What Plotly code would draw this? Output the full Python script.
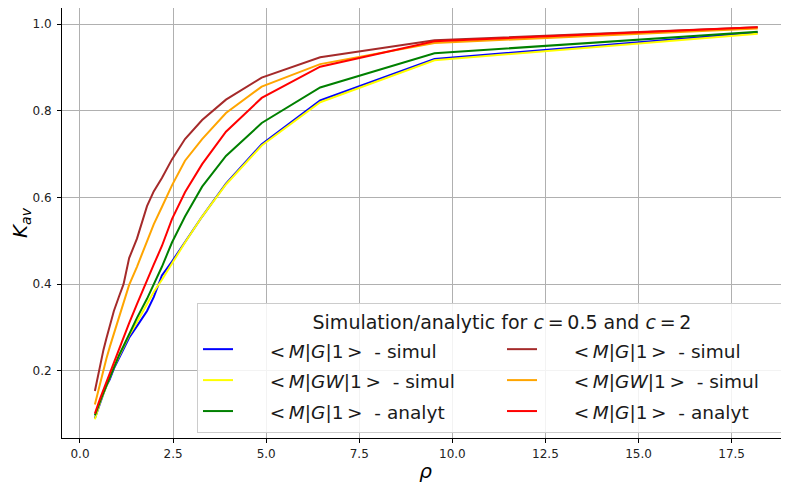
import plotly.graph_objects as go

# rho values (x)
rho = [0.40, 0.45, 0.50, 0.56, 0.63, 0.71, 0.80, 0.91, 1.05, 1.17, 1.32, 1.53,
       1.80, 1.98, 2.20, 2.47, 2.82, 3.28, 3.92, 4.88, 6.45, 9.52, 18.2]

# c = 0.5
mg1_simul_c05 = [0.090, 0.103, 0.118, 0.130, 0.147, 0.165, 0.180, 0.205, 0.230, 0.250, 0.276, 0.303,
                 0.338, 0.370, 0.420, 0.452, 0.498, 0.556, 0.632, 0.723, 0.824, 0.920, 0.981]
mgw1_simul_c05 = [0.088, 0.105, 0.116, 0.132, 0.148, 0.166, 0.186, 0.208, 0.234, 0.255, 0.282, 0.312,
                  0.355, 0.382, 0.410, 0.448, 0.496, 0.556, 0.630, 0.720, 0.820, 0.917, 0.978]
mg1_analyt_c05 = [0.097, 0.110, 0.121, 0.134, 0.149, 0.166, 0.186, 0.209, 0.236, 0.257, 0.285, 0.322,
                  0.366, 0.398, 0.440, 0.496, 0.556, 0.625, 0.696, 0.772, 0.854, 0.933, 0.983]
# c = 2
mg1_simul_c2 = [0.153, 0.175, 0.195, 0.222, 0.248, 0.275, 0.305, 0.338, 0.372, 0.400, 0.460, 0.505,
                0.580, 0.614, 0.645, 0.688, 0.735, 0.779, 0.826, 0.877, 0.924, 0.963, 0.993]
mgw1_simul_c2 = [0.122, 0.140, 0.158, 0.180, 0.202, 0.228, 0.255, 0.285, 0.325, 0.360, 0.398, 0.440,
                 0.500, 0.538, 0.578, 0.628, 0.685, 0.735, 0.795, 0.856, 0.908, 0.957, 0.990]
mg1_analyt_c2 = [0.101, 0.115, 0.126, 0.140, 0.156, 0.175, 0.196, 0.220, 0.250, 0.277, 0.310, 0.354,
                 0.410, 0.445, 0.488, 0.550, 0.612, 0.677, 0.752, 0.830, 0.902, 0.961, 0.993]

x_ticks = [0.0, 2.5, 5.0, 7.5, 10.0, 12.5, 15.0, 17.5]
y_ticks = [0.2, 0.4, 0.6, 0.8, 1.0]

PAD = "\u00a0" * 4 + "\u2009"
LBL_G = "<\u2009<i>M</i>|<i>G</i>|1\u2009>"
LBL_GW = "<\u2009<i>M</i>|<i>GW</i>|1\u2009>"

def entry(t):
    return PAD + '<span style="font-size:18.5px">' + t + "</span>"

series = [
    (mg1_simul_c05, "blue", LBL_G + "  - simul", 1),
    (mgw1_simul_c05, "yellow", LBL_GW + "  - simul", 3),
    (mg1_analyt_c05, "green", LBL_G + "  - analyt", 5),
    (mg1_simul_c2, "brown", LBL_G + "  - simul", 2),
    (mgw1_simul_c2, "orange", LBL_GW + "  - simul", 4),
    (mg1_analyt_c2, "red", LBL_G + "  - analyt", 6),
]

fig = go.Figure()
for ys, col, name, rank in series:
    fig.add_trace(go.Scatter(x=rho, y=ys, mode="lines", name=entry(name),
                             line=dict(color=col, width=2), legendrank=rank))

FONT = "DejaVu Sans"
# the page body adds an 8px margin, so the figure is sized to fit the window
fig.update_layout(
    width=781, height=475,
    margin=dict(l=54, r=0, t=0, b=45, autoexpand=False),
    paper_bgcolor="white", plot_bgcolor="white",
    font=dict(family=FONT, color="#222222", size=12),
    legend=dict(
        orientation="h",
        x=0.1857, y=0.314, xanchor="left", yanchor="top",
        entrywidth=259,
        bgcolor="rgba(255,255,255,0.85)",
        bordercolor="#cccccc", borderwidth=1,
        font=dict(family=FONT, size=21.5, color="#1a1a1a"),
        title=dict(text="Simulation/analytic for <i>c</i>\u2009=\u20090.5 and <i>c</i>\u2009=\u20092",
                   side="top center", font=dict(family=FONT, size=19, color="#1a1a1a")),
        tracegroupgap=0,
    ),
)
fig.update_xaxes(
    range=[-0.483, 19.04], tickvals=x_ticks, ticktext=[f"{v:.1f}" for v in x_ticks],
    showgrid=True, gridcolor="#b0b0b0", gridwidth=1,
    showline=True, linecolor="black", linewidth=1, mirror=True,
    ticks="outside", ticklen=4, tickcolor="black", zeroline=False,
    ticklabelstandoff=1,
    title=dict(text="<i>ρ</i>", font=dict(family=FONT, size=20, color="black"), standoff=6),
)
fig.update_yaxes(
    range=[0.0446, 1.0376], tickvals=y_ticks, ticktext=[f"{v:.1f}" for v in y_ticks],
    showgrid=True, gridcolor="#b0b0b0", gridwidth=1,
    showline=True, linecolor="black", linewidth=1,
    ticks="outside", ticklen=4, tickcolor="black", zeroline=False,
    ticklabelstandoff=3,
    title=dict(text="<i>K</i><sub><i>av</i></sub>", font=dict(family=FONT, size=20, color="black"), standoff=16),
)

fig.write_html("out.html")
